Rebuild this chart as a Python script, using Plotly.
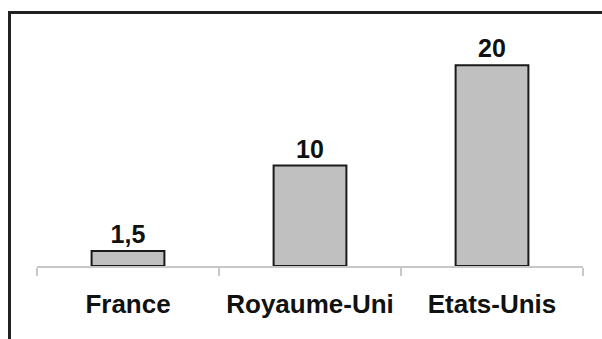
import plotly.graph_objects as go

# Chart data
countries = ["France", "Royaume-Uni", "Etats-Unis"]
values = [1.5, 10, 20]
value_labels = [f"{v:g}".replace(".", ",") for v in values]

W, H = 602, 339
L, R, T, B = 37, 19, 15, 73
plot_w = W - L - R
plot_h = H - T - B


def px_to_paper_x(px):
    return (px - L) / plot_w


def px_to_paper_y(py):
    return (H - B - py) / plot_h


fig = go.Figure(
    go.Bar(
        x=countries,
        y=values,
        text=value_labels,
        textposition="outside",
        textfont=dict(family="Liberation Sans, Arial, sans-serif", size=25, color="#111111", weight="bold"),
        marker=dict(color="#c0c0c0", line=dict(color="#1a1a1a", width=2)),
        width=0.4,
        cliponaxis=False,
    )
)

# Frame lines along the top and left edges
frame = dict(type="line", xref="paper", yref="paper", line=dict(color="#222222", width=3))
fig.add_shape(**frame, x0=px_to_paper_x(9.5), x1=px_to_paper_x(9.5), y0=px_to_paper_y(H + 2), y1=px_to_paper_y(11))
fig.add_shape(**frame, x0=px_to_paper_x(8), x1=px_to_paper_x(W + 2), y0=px_to_paper_y(12.5), y1=px_to_paper_y(12.5))

fig.update_layout(
    width=W,
    height=H,
    margin=dict(l=L, r=R, t=T, b=B, pad=0),
    paper_bgcolor="white",
    plot_bgcolor="white",
    showlegend=False,
    bargap=0.6,
    xaxis=dict(
        showline=True,
        linecolor="#c8c8c8",
        linewidth=1.5,
        ticks="outside",
        tickson="boundaries",
        ticklen=8,
        tickcolor="#c8c8c8",
        tickwidth=1.5,
        showgrid=False,
        tickfont=dict(family="Liberation Sans, Arial, sans-serif", size=26, color="#111111", weight="bold"),
        ticklabelstandoff=14,
    ),
    yaxis=dict(visible=False, range=[0, 25], fixedrange=True),
)

fig.write_html("out.html")
